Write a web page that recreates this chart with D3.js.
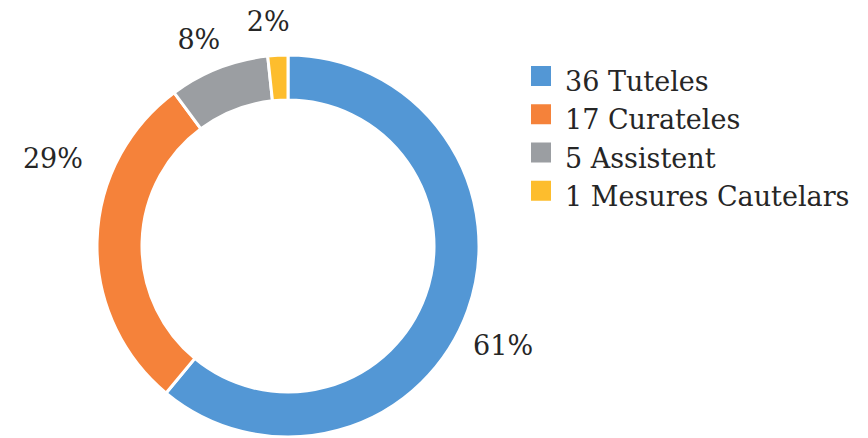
<!DOCTYPE html>
<html>
<head>
<meta charset="utf-8">
<script src="https://cdn.jsdelivr.net/npm/d3@7"></script>
<style>
  body { margin: 0; background: #fff; }
  text { font-family: "DejaVu Serif", "Liberation Serif", serif; fill: #262626; }
</style>
</head>
<body>
<script>
//chart data
var categories = ["Tuteles", "Curateles", "Assistent", "Mesures Cautelars"];
var counts = [36, 17, 5, 1];
var percentLabels = ["61%", "29%", "8%", "2%"];
var colors = ["#5397d5", "#f5823a", "#9b9ea2", "#fdbd2d"];

//label nudges in degrees / px (layout only)
var labelAngleShift = [5, 19, -2, -2];
var labelRadius = [237, 251, 225, 225];

window.onload = drawChart();

function drawChart(){
    var width = 868,
        height = 438;

    var svg = d3.select("body")
        .append("svg")
        .attr("width", width)
        .attr("height", height);

    var cx = 288, cy = 246,
        outerR = 191, innerR = 146;

    var pie = d3.pie()
        .sort(null)
        .value(function(d){ return d; });

    var arc = d3.arc()
        .innerRadius(innerR)
        .outerRadius(outerR);

    var slices = pie(counts);

    var g = svg.append("g")
        .attr("transform", "translate(" + cx + "," + cy + ")");

    //donut segments
    g.selectAll(".slice")
        .data(slices)
        .enter()
        .append("path")
        .attr("class", "slice")
        .attr("d", arc)
        .attr("fill", function(d, i){ return colors[i]; })
        .attr("stroke", "#fff")
        .attr("stroke-width", 3);

    //percentage labels outside the ring
    g.selectAll(".pct")
        .data(slices)
        .enter()
        .append("text")
        .attr("class", "pct")
        .attr("x", function(d, i){
            var a = (d.startAngle + d.endAngle) / 2 + labelAngleShift[i] * Math.PI / 180;
            return Math.sin(a) * labelRadius[i];
        })
        .attr("y", function(d, i){
            var a = (d.startAngle + d.endAngle) / 2 + labelAngleShift[i] * Math.PI / 180;
            return -Math.cos(a) * labelRadius[i];
        })
        .attr("text-anchor", "middle")
        .attr("dominant-baseline", "central")
        .style("font-size", "27px")
        .text(function(d, i){ return percentLabels[i]; });

    //legend
    var legendY = d3.scaleBand()
        .domain(d3.range(categories.length))
        .range([57, 210]);

    var legend = svg.selectAll(".legend")
        .data(categories)
        .enter()
        .append("g")
        .attr("class", "legend")
        .attr("transform", function(d, i){ return "translate(531," + legendY(i) + ")"; });

    legend.append("rect")
        .attr("width", 20)
        .attr("height", 20)
        .attr("y", 9)
        .attr("fill", function(d, i){ return colors[i]; });

    legend.append("text")
        .attr("x", 34)
        .attr("y", 34)
        .style("font-size", "27px")
        .text(function(d, i){ return counts[i] + " " + d; });
};
</script>
</body>
</html>
